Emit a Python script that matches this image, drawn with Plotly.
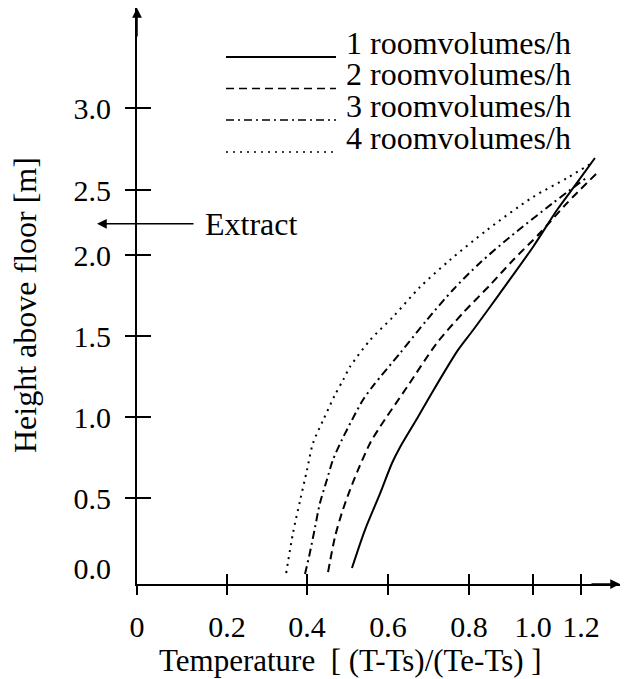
import numpy as np
import plotly.graph_objects as go

# ---------------- data ----------------
SERIES_NAMES = ["1 roomvolumes/h", "2 roomvolumes/h", "3 roomvolumes/h", "4 roomvolumes/h"]

SOLID_T = [0.511, 0.543, 0.580, 0.610, 0.630, 0.674, 0.704, 0.773, 0.813, 0.897, 1.000, 1.100, 1.183, 1.258]
SOLID_H = [0.000, 0.271, 0.525, 0.716, 0.815, 1.000, 1.130, 1.414, 1.537, 1.765, 2.062, 2.346, 2.543, 2.695]

DASHED_T = [0.452, 0.469, 0.486, 0.506, 0.526, 0.556, 0.580, 0.647, 0.721, 0.785, 0.866, 0.938, 1.029, 1.142, 1.271]
DASHED_H = [-0.029, 0.221, 0.393, 0.549, 0.673, 0.840, 0.938, 1.185, 1.457, 1.642, 1.815, 1.969, 2.169, 2.400, 2.610]

DASHDOT_T = [0.395, 0.407, 0.420, 0.432, 0.449, 0.464, 0.486, 0.511, 0.538, 0.565, 0.630, 0.696, 0.760, 0.834, 0.928, 1.083, 1.221]
DASHDOT_H = [-0.043, 0.107, 0.293, 0.464, 0.611, 0.735, 0.858, 0.981, 1.105, 1.198, 1.395, 1.599, 1.784, 1.951, 2.138, 2.400, 2.573]

DOTTED_T = [0.348, 0.365, 0.383, 0.400, 0.415, 0.440, 0.469, 0.489, 0.506, 0.556, 0.612, 0.679, 0.753, 0.856, 1.000, 1.142, 1.246]
DOTTED_H = [-0.036, 0.250, 0.486, 0.673, 0.840, 0.981, 1.136, 1.228, 1.309, 1.475, 1.617, 1.802, 1.969, 2.192, 2.446, 2.573, 2.665]

X_TICK_VALUES = [0.0, 0.2, 0.4, 0.6, 0.8, 1.0, 1.2]
X_TICK_LABELS = ["0", "0.2", "0.4", "0.6", "0.8", "1.0", "1.2"]
Y_TICK_VALUES = [0.0, 0.5, 1.0, 1.5, 2.0, 2.5, 3.0]
Y_TICK_LABELS = ["0.0", "0.5", "1.0", "1.5", "2.0", "2.5", "3.0"]

EXTRACT_HEIGHT = 2.24

# ---------------- non-uniform axis scales of the original drawing ----------------
X_SCALE_POS = [0, 90, 170, 251, 332, 396, 444]     # axis units for X_TICK_VALUES
Y_SCALE_POS = [16, 86, 167, 248, 329, 394, 476]    # axis units for Y_TICK_VALUES
X_RANGE = [0, 483]
Y_RANGE = [0, 576]


def make_scale(vals, pos):
    v = np.asarray(vals, float)
    p = np.asarray(pos, float)

    def f(x):
        x = np.asarray(x, float)
        y = np.interp(x, v, p)
        y = np.where(x < v[0], p[0] + (x - v[0]) * (p[1] - p[0]) / (v[1] - v[0]), y)
        y = np.where(x > v[-1], p[-1] + (x - v[-1]) * (p[-1] - p[-2]) / (v[-1] - v[-2]), y)
        return y
    return f


sx = make_scale(X_TICK_VALUES, X_SCALE_POS)
sy = make_scale(Y_TICK_VALUES, Y_SCALE_POS)

FONT = "Liberation Serif, Times New Roman, serif"
W, H = 627, 679
ML, MR, MT, MB = 137, 7, 8, 95


def px_to_paper(px, py):
    return (px - ML) / (W - ML - MR), (H - MB - py) / (H - MT - MB)


fig = go.Figure()

styles = [
    dict(dash="solid", width=2),
    dict(dash="8px,5px", width=2),
    dict(dash="8px,4px,2px,4px", width=2),
    dict(dash="2px,5px", width=2),
]
series = [(SOLID_T, SOLID_H), (DASHED_T, DASHED_H), (DASHDOT_T, DASHDOT_H), (DOTTED_T, DOTTED_H)]

for name, (t, h), st in zip(SERIES_NAMES, series, styles):
    fig.add_trace(go.Scatter(
        x=sx(t), y=sy(h), name=name, mode="lines",
        line=dict(color="black", width=st["width"], dash=st["dash"], shape="spline", smoothing=0.8),
        showlegend=False, hoverinfo="skip", cliponaxis=False,
    ))

# helper traces for the overlay tick axes
fig.add_trace(go.Scatter(x=[None], y=[None], xaxis="x2", yaxis="y2", showlegend=False))
fig.add_trace(go.Scatter(x=[None], y=[None], xaxis="x3", yaxis="y3", showlegend=False))

tickfont = dict(family=FONT, size=30, color="black")
xt = list(sx(X_TICK_VALUES))
yt = list(sy(Y_TICK_VALUES))

fig.update_layout(
    width=W, height=H,
    margin=dict(l=ML, r=MR, t=MT, b=MB),
    paper_bgcolor="white", plot_bgcolor="white",
    font=dict(family=FONT, color="black"),
    showlegend=False,
    xaxis=dict(range=X_RANGE, tickmode="array", tickvals=xt, ticktext=X_TICK_LABELS,
               ticks="outside", ticklen=9, tickwidth=2, tickcolor="black",
               showline=True, linewidth=2, linecolor="black", showgrid=False, zeroline=False,
               tickfont=tickfont, ticklabelstandoff=6),
    yaxis=dict(range=Y_RANGE, tickmode="array", tickvals=yt, ticktext=Y_TICK_LABELS,
               ticks="", showline=True, linewidth=2, linecolor="black", showgrid=False, zeroline=False,
               tickfont=tickfont, ticklabelstandoff=18),
    xaxis2=dict(range=X_RANGE, overlaying="x", anchor="y2", side="bottom",
                tickmode="array", tickvals=xt[1:], ticks="inside", ticklen=10, tickwidth=2,
                tickcolor="black", showticklabels=False, showline=False, showgrid=False, zeroline=False),
    yaxis2=dict(range=Y_RANGE, overlaying="y", anchor="x2", side="left",
                tickmode="array", tickvals=yt[1:], ticks="outside", ticklen=11, tickwidth=2,
                tickcolor="black", showticklabels=False, showline=False, showgrid=False, zeroline=False),
    xaxis3=dict(range=X_RANGE, overlaying="x", anchor="y3", side="bottom", showticklabels=False,
                ticks="", showline=False, showgrid=False, zeroline=False),
    yaxis3=dict(range=Y_RANGE, overlaying="y", anchor="x3", side="left",
                tickmode="array", tickvals=yt[1:], ticks="inside", ticklen=14, tickwidth=2,
                tickcolor="black", showticklabels=False, showline=False, showgrid=False, zeroline=False),
)

ann = []
# axis arrowheads
ann.append(dict(xref="paper", yref="paper", x=0, y=1.0, ax=0, ay=30, axref="pixel", ayref="pixel",
                text="", showarrow=True, arrowhead=2, arrowsize=1.3, arrowwidth=1.5, arrowcolor="black"))
ann.append(dict(xref="paper", yref="paper", x=1.0, y=0, ax=-30, ay=0, axref="pixel", ayref="pixel",
                text="", showarrow=True, arrowhead=2, arrowsize=1.3, arrowwidth=1.5, arrowcolor="black"))
# Extract arrow
ex_tip, _ = px_to_paper(97, 0)
ann.append(dict(xref="paper", yref="y", x=ex_tip, y=float(sy(EXTRACT_HEIGHT)), ax=98, ay=0,
                axref="pixel", ayref="pixel", text="", showarrow=True, arrowhead=2, arrowsize=1.3,
                arrowwidth=1.5, arrowcolor="black"))
ex_txt, _ = px_to_paper(203, 0)
ann.append(dict(xref="paper", yref="y", x=ex_txt, y=float(sy(EXTRACT_HEIGHT)), text="Extract",
                showarrow=False, xanchor="left", yanchor="middle",
                font=dict(family=FONT, size=32, color="black")))
# axis titles
tx, ty = px_to_paper(350, 660)
ann.append(dict(xref="paper", yref="paper", x=tx, y=ty, text="Temperature  [ (T-Ts)/(Te-Ts) ]",
                showarrow=False, xanchor="center", yanchor="middle",
                font=dict(family=FONT, size=31, color="black")))
tx, ty = px_to_paper(25, 305)
ann.append(dict(xref="paper", yref="paper", x=tx, y=ty, text="Height above floor [m]", textangle=-90,
                showarrow=False, xanchor="center", yanchor="middle",
                font=dict(family=FONT, size=32, color="black")))

# legend (keys + labels)
LEG_ROWS_PX = [57, 88.5, 120, 152]
shapes = []
for name, st, ry in zip(SERIES_NAMES, styles, LEG_ROWS_PX):
    x0, y0 = px_to_paper(226, ry)
    x1, _ = px_to_paper(336, ry)
    shapes.append(dict(type="line", xref="paper", yref="paper", x0=x0, x1=x1, y0=y0, y1=y0,
                       line=dict(color="black", width=2 if st["dash"] == "solid" else 1.6, dash=st["dash"])))
    lx, ly = px_to_paper(344, ry - 14)
    ann.append(dict(xref="paper", yref="paper", x=lx, y=ly, text=name, showarrow=False,
                    xanchor="left", yanchor="middle", font=dict(family=FONT, size=32, color="black")))

fig.update_layout(annotations=ann, shapes=shapes)
fig.write_html("out.html")
